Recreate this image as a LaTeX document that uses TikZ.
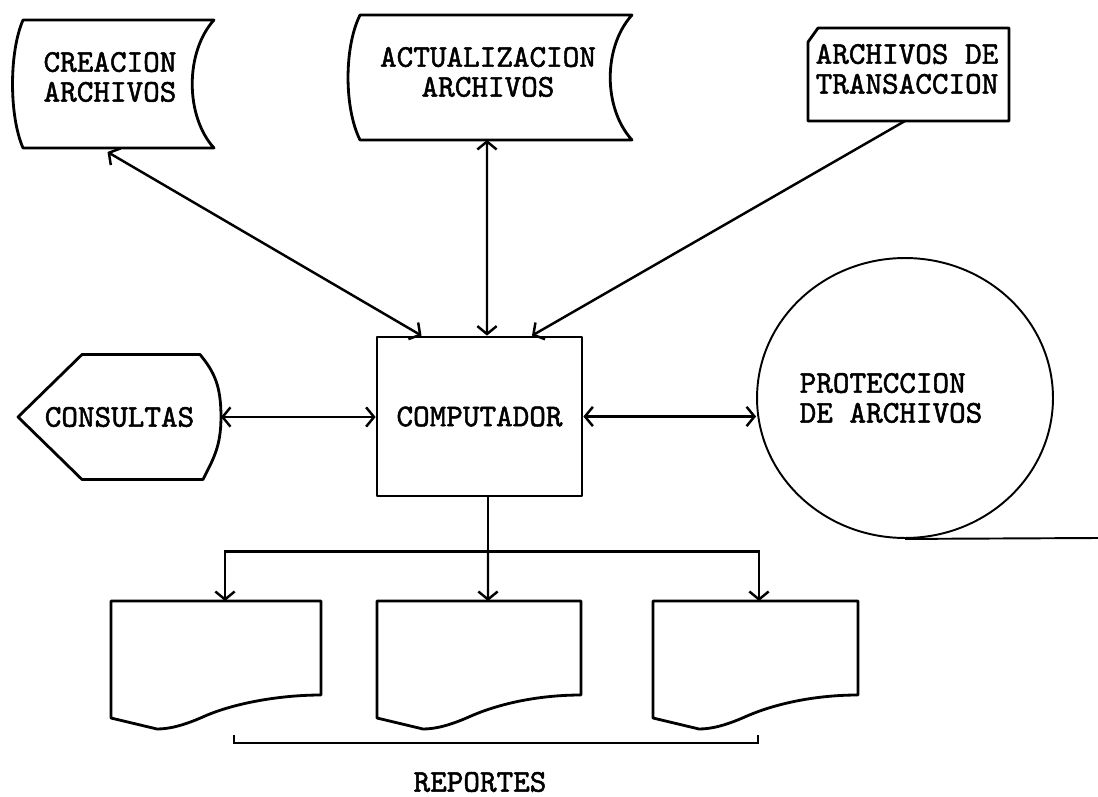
\documentclass[tikz,border=0pt]{standalone}
\usepackage{fontspec}
\newfontfamily\typew[FakeBold=1.6]{lmmono10-regular.otf}
\usetikzlibrary{arrows.meta, calc, shapes.geometric}

\tikzset{
    holder/.style={draw=none, inner sep=0pt, outer sep=0pt},
    outline/.style={line width=1.6pt, line join=round},
    txt/.style={font=\typew\fontsize{18pt}{17pt}\selectfont, align=left, inner sep=0pt},
    conn/.style={line width=1.4pt},
    >={Straight Barb[length=4.5pt, width=11pt]}
}

\begin{document}
\begin{tikzpicture}[x=0.02cm, y=-0.02cm]

    % page, in pixels of the scan
    \useasboundingbox (0,0) rectangle (1098,797);

    % Computer
    \node[draw, outline, txt, minimum width=4.1cm, minimum height=3.18cm] (comp) at (479.5,416.5) {COMPUTADOR};

    % Stored data, creation
    \node[holder, minimum width=3.82cm, minimum height=2.56cm] (crea) at (118.5,84) {};
    \draw[outline] (crea.north west) .. controls +(-14,32) and +(-14,-32) .. (crea.south west)
        -- (crea.south east) .. controls +(-29,-32) and +(-29,32) .. (crea.north east) -- cycle;
    \node[txt] (creatxt) at (110,77) {CREACION\\ARCHIVOS};

    % Stored data, update
    \node[holder, minimum width=5.44cm, minimum height=2.5cm] (actu) at (496,77.5) {};
    \draw[outline] (actu.north west) .. controls +(-16,32) and +(-16,-32) .. (actu.south west)
        -- (actu.south east) .. controls +(-29,-32) and +(-29,32) .. (actu.north east) -- cycle;
    \node[txt, align=center] (actutxt) at (488,72) {ACTUALIZACION\\ARCHIVOS};

    % Punched card
    \node[holder, minimum width=4.02cm, minimum height=1.86cm] (tran) at (908.5,74.5) {};
    \draw[outline] ($(tran.north west)+(0,14)$) -- ($(tran.north west)+(10,0)$) -- (tran.north east)
        -- (tran.south east) -- (tran.south west) -- cycle;
    \node[txt] (trantxt) at (907,69) {ARCHIVOS DE\\TRANSACCION};

    % Display
    \node[holder, txt, minimum width=4.06cm, minimum height=2.5cm] (cons) at (119.5,417) {CONSULTAS};
    \draw[outline] (cons.west) -- ($(cons.north west)+(64,0)$) -- ($(cons.north east)+(-21,0)$)
        .. controls +(15,18) and +(0,-30) .. (cons.east)
        .. controls +(0,30) and +(10,-20) .. ($(cons.south east)+(-18,0)$)
        -- ($(cons.south west)+(64,0)$) -- cycle;

    % Magnetic tape
    \node[ellipse, draw, line width=1.1pt, minimum width=5.92cm, minimum height=5.6cm, inner sep=0pt] (tape) at (905,398) {};
    \coordinate (tapeend) at (1098,538);
    \draw[line width=1.1pt] (tape.south) -- (tapeend);
    \node[txt] (tapetxt) at (891,398) {PROTECCION\\DE ARCHIVOS};

    % Reports
    \foreach \xa/\xb/\nm in {111/321/repa, 377/581/repb, 653/858/repc}{
        \node[holder, anchor=north west, minimum width={(\xb-\xa)*0.02cm}, minimum height=1.88cm] (\nm) at (\xa,601) {};
        \draw[outline] (\xa,601) -- (\xb,601) -- (\xb,695)
            .. controls (\xb-41,695) and (\xa+124,703) .. (\xa+94,716)
            .. controls (\xa+74,725) and (\xa+59,729) .. (\xa+46,729)
            -- (\xa,718) -- cycle;
    }
    \draw[conn] (234,735) -- (234,743) -- (758,743) -- (758,735);
    \node[txt] (rept) at (480,782) {REPORTES};

    % Connectors
    \draw[conn, <->] ($(crea.south)+(-11,4)$) -- ($(comp.north)+(-58,0)$);
    \draw[conn, <->] ($(actu.south)+(-9,0)$) -- ($(comp.north)+(7.5,0)$);
    \draw[conn, ->] ($(tran.south)+(-3.5,0)$) -- ($(comp.north)+(52.5,0)$);
    \draw[conn, <->] (cons.east) -- (cons.east -| comp.west);
    \draw[conn, <->] (comp.east) -- (comp.east -| tape.west);
    \coordinate (fork) at ($(comp.south)+(8.5,54)$);
    \draw[conn] ($(comp.south)+(8.5,0)$) -- (fork);
    \draw[conn, ->] (fork) -- ($(repb.north)+(9,0)$);
    \draw[conn, ->] (fork) -| ($(repa.north)+(9,0)$);
    \draw[conn, ->] (fork) -| ($(repc.north)+(3.5,0)$);

\end{tikzpicture}
\end{document}
